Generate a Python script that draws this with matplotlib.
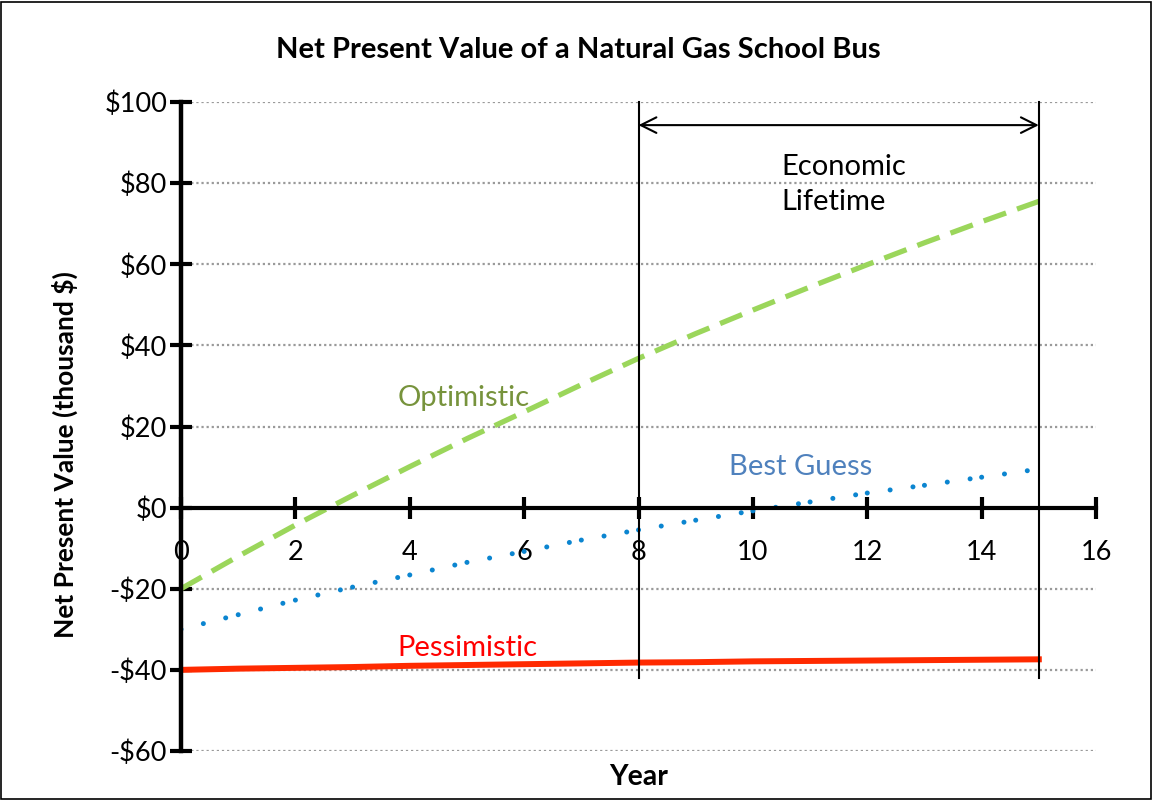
import numpy as np
from matplotlib import pyplot as plt
from matplotlib.patches import Rectangle

plt.rcParams['font.family'] = ['Lato', 'DejaVu Sans']

years = list(range(16))
optimistic = [-20, -12, -4.3, 3.0, 10.1, 17.0, 23.6, 30.3, 36.8, 42.9, 48.7, 54.4, 59.9, 65.3, 70.5, 75.5]
bestGuess = [-30, -26.4, -22.8, -19.6, -16.6, -13.5, -10.8, -8.0, -5.5, -3.1, -0.8, 1.4, 3.6, 5.5, 7.5, 9.5]
pessimistic = [-40, -39.7, -39.5, -39.3, -39.0, -38.8, -38.6, -38.4, -38.2, -38.1, -37.9, -37.8, -37.7, -37.6, -37.5, -37.4]

yTicks = [100, 80, 60, 40, 20, 0, -20, -40, -60]
yTickLabels = ['$100', '$80', '$60', '$40', '$20', '$0', '-$20', '-$40', '-$60']
xTicks = [0, 2, 4, 6, 8, 10, 12, 14, 16]
lifetimeStart, lifetimeEnd = 8, 15

fig = plt.figure(figsize=(11.52, 8), dpi=100)
ax = fig.add_axes([181/1152, 1 - 751/800, (1096 - 181)/1152, (751 - 102)/800])
ax.set_xlim(0, 16)
ax.set_ylim(-60, 100)

# grid lines
for yv in yTicks:
    ax.plot([0, 16], [yv, yv], color='#9a9a9a', lw=1.6, linestyle=(0, (1, 1.3)), zorder=1)

ax.spines['top'].set_visible(False)
ax.spines['right'].set_visible(False)
ax.spines['left'].set_linewidth(3.2)
ax.spines['bottom'].set_linewidth(3)
ax.spines['bottom'].set_position(('data', 0))
ax.spines['left'].set_zorder(4)
ax.spines['bottom'].set_zorder(4)

ax.set_yticks(yTicks)
ax.set_yticklabels(yTickLabels)
ax.set_xticks(xTicks)
ax.set_xticklabels([str(x) for x in xTicks])
ax.tick_params(axis='y', direction='inout', length=16, width=3, labelsize=19.5, pad=2)
ax.tick_params(axis='x', direction='inout', length=16, width=3, labelsize=19.5, pad=15)

# series
ax.plot(years, optimistic, color='#9BD65B', lw=3.8, linestyle=(0, (4.5, 2.2)), zorder=3)
for i in range(len(years) - 1):
    ax.plot(years[i:i+2], bestGuess[i:i+2], color='#0B85D0', lw=3.6,
            linestyle=(0, (0.01, 4.6)), dash_capstyle='round', zorder=3)
ax.plot(years, pessimistic, color='#FF2A00', lw=4.3, zorder=3)

# economic lifetime markers
for xv in [lifetimeStart, lifetimeEnd]:
    ax.plot([xv, xv], [100, -42], color='black', lw=1.5, clip_on=False, zorder=5)
ax.annotate('', xy=(lifetimeStart, 94.3), xytext=(lifetimeEnd, 94.3),
            arrowprops=dict(arrowstyle='<->', lw=1.5, color='black', mutation_scale=28,
                            shrinkA=0, shrinkB=0))
ax.text(10.5, 79.6, 'Economic\nLifetime', fontsize=21, color='black', va='center', ha='left',
        linespacing=1.45)

ax.text(3.78, 27, 'Optimistic', fontsize=21, color='#77933C', va='center', ha='left')
ax.text(9.58, 10, 'Best Guess', fontsize=21, color='#4F81BD', va='center', ha='left')
ax.text(3.78, -34.5, 'Pessimistic', fontsize=21, color='#FF0000', va='center', ha='left')

fig.text(578/1152, 1 - 50/800, 'Net Present Value of a Natural Gas School Bus',
         fontsize=21, fontweight='bold', ha='center', va='center')
fig.text(65/1152, 1 - 455/800, 'Net Present Value (thousand $)', fontsize=19,
         fontweight='bold', rotation=90, ha='center', va='center')
fig.text(639/1152, 1 - 777/800, 'Year', fontsize=20.5, fontweight='bold', ha='center', va='center')

fig.patches.append(Rectangle((0.001, 0.001), 0.998, 0.997, transform=fig.transFigure,
                             fill=False, edgecolor='black', lw=1.2))

fig.savefig('out.png', dpi=100)
